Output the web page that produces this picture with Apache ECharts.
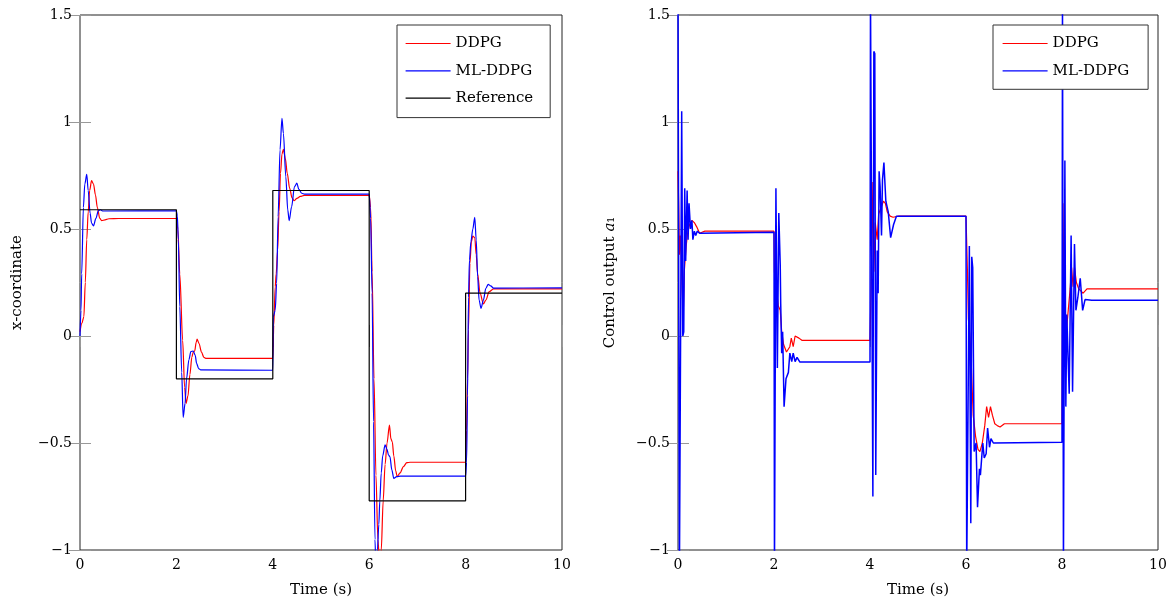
<!DOCTYPE html>
<html>
<head>
<meta charset="utf-8">
<title>DDPG vs ML-DDPG</title>
<script src="https://cdn.jsdelivr.net/npm/echarts@6/dist/echarts.min.js"></script>
<style>
html, body {margin:0; padding:0; background:#fff;}
#chart {width:1170px; height:603px;}
</style>
</head>
<body>
<div id="chart"></div>
<script>
// ticks
var timeTicks = [0, 2, 4, 6, 8, 10];
var valueTicks = [-1, -0.5, 0, 0.5, 1, 1.5];

// left panel (x-coordinate), points are [time, value]
var refX = [[0,0.59],[2,0.59],[2,-0.2],[4,-0.2],[4,0.68],[6,0.68],[6,-0.77],[8,-0.77],[8,0.2],[10,0.2]];

var ddpgX = [
  [0,0.02],[0.04,0.06],[0.08,0.09],[0.11,0.25],[0.14,0.45],[0.17,0.58],[0.2,0.68],[0.24,0.726],[0.28,0.71],[0.32,0.66],[0.36,0.6],[0.41,0.55],[0.45,0.539],[0.52,0.543],[0.6,0.548],[0.8,0.549],[2,0.549],
  [2.03,0.5],[2.07,0.29],[2.13,-0.02],[2.17,-0.24],[2.2,-0.315],[2.24,-0.28],[2.28,-0.18],[2.32,-0.1],[2.35,-0.075],[2.38,-0.07],[2.41,-0.03],[2.43,-0.015],[2.47,-0.035],[2.52,-0.075],[2.57,-0.1],[2.62,-0.105],[4,-0.105],
  [4.02,0.05],[4.05,0.23],[4.07,0.29],[4.1,0.4],[4.13,0.58],[4.16,0.76],[4.19,0.85],[4.22,0.872],[4.26,0.83],[4.3,0.76],[4.35,0.69],[4.4,0.645],[4.44,0.632],[4.5,0.643],[4.57,0.652],[4.65,0.657],[6,0.657],
  [6.03,0.6],[6.06,0.3],[6.1,-0.2],[6.14,-0.65],[6.18,-0.95],[6.22,-1.08],[6.25,-1.0],[6.29,-0.77],[6.33,-0.6],[6.37,-0.5],[6.42,-0.416],[6.45,-0.48],[6.48,-0.495],[6.51,-0.56],[6.55,-0.63],[6.58,-0.657],[6.64,-0.64],[6.71,-0.61],[6.78,-0.592],[6.85,-0.59],[8,-0.59],
  [8.02,-0.44],[8.04,-0.2],[8.06,0.03],[8.09,0.34],[8.12,0.44],[8.15,0.467],[8.19,0.46],[8.22,0.38],[8.25,0.29],[8.3,0.2],[8.37,0.15],[8.42,0.168],[8.49,0.207],[8.58,0.22],[10,0.22]
];

var mlX = [
  [0,0],[0.02,0.12],[0.035,0.29],[0.07,0.6],[0.1,0.71],[0.14,0.755],[0.17,0.68],[0.21,0.573],[0.24,0.527],[0.28,0.515],[0.33,0.55],[0.38,0.585],[0.42,0.59],[0.48,0.584],[2,0.585],
  [2.02,0.56],[2.04,0.45],[2.07,0.137],[2.11,-0.17],[2.14,-0.38],[2.18,-0.315],[2.21,-0.2],[2.26,-0.11],[2.3,-0.073],[2.35,-0.07],[2.39,-0.09],[2.42,-0.128],[2.46,-0.152],[2.5,-0.158],[4,-0.16],
  [4.01,0.09],[4.05,0.12],[4.08,0.246],[4.11,0.557],[4.15,0.87],[4.19,1.017],[4.22,0.947],[4.27,0.744],[4.31,0.589],[4.34,0.539],[4.39,0.604],[4.45,0.698],[4.5,0.714],[4.54,0.685],[4.6,0.667],[4.66,0.663],[6,0.663],
  [6.03,0.55],[6.06,0.2],[6.09,-0.4],[6.12,-0.95],[6.145,-1.15],[6.17,-1.0],[6.2,-0.88],[6.22,-0.77],[6.25,-0.64],[6.28,-0.56],[6.33,-0.509],[6.37,-0.53],[6.4,-0.556],[6.43,-0.564],[6.47,-0.626],[6.51,-0.665],[6.57,-0.657],[6.65,-0.655],[8,-0.655],
  [8.02,-0.59],[8.04,-0.28],[8.06,0.18],[8.08,0.355],[8.11,0.44],[8.15,0.5],[8.19,0.555],[8.22,0.449],[8.25,0.277],[8.28,0.168],[8.32,0.129],[8.37,0.168],[8.42,0.223],[8.47,0.241],[8.52,0.234],[8.58,0.224],[10,0.225]
];

// right panel (control output a1)
var ddpgU = [
  [0,0.77],[0.015,0.6],[0.03,0.38],[0.05,0.47],[0.07,0.35],[0.09,0.2],[0.11,0.1],[0.13,0.3],[0.17,0.42],[0.2,0.48],[0.24,0.52],[0.29,0.54],[0.34,0.53],[0.39,0.51],[0.45,0.48],[0.5,0.485],[0.56,0.49],[2,0.49],
  [2.01,0.3],[2.03,0.23],[2.06,0.2],[2.09,0.14],[2.13,0.12],[2.16,0.02],[2.2,-0.04],[2.26,-0.075],[2.3,-0.07],[2.33,-0.05],[2.36,-0.01],[2.4,-0.05],[2.44,0],[2.47,0],[2.52,-0.01],[2.58,-0.02],[4,-0.02],
  [4.03,0.3],[4.06,0.72],[4.08,0.3],[4.11,0.53],[4.15,0.45],[4.18,0.57],[4.23,0.6],[4.28,0.63],[4.32,0.62],[4.36,0.58],[4.42,0.56],[4.48,0.555],[4.6,0.56],[6,0.56],
  [6.03,0.3],[6.05,0.08],[6.08,0],[6.11,-0.13],[6.15,-0.37],[6.2,-0.47],[6.25,-0.53],[6.29,-0.54],[6.34,-0.5],[6.39,-0.42],[6.43,-0.33],[6.47,-0.38],[6.51,-0.33],[6.55,-0.37],[6.6,-0.41],[6.66,-0.42],[6.71,-0.425],[6.8,-0.41],[8,-0.41],
  [8.02,0.62],[8.04,0.2],[8.06,-0.08],[8.09,0.02],[8.13,0.12],[8.17,0.22],[8.2,0.32],[8.23,0.23],[8.26,0.32],[8.3,0.25],[8.35,0.22],[8.44,0.2],[8.52,0.22],[10,0.22]
];

var mlU = [
  [0,1.6],[0.01,1.6],[0.03,-1.1],[0.05,-1.1],[0.077,1.05],[0.1,0],[0.12,0.02],[0.14,0.69],[0.16,0.35],[0.19,0.68],[0.21,0.45],[0.23,0.62],[0.26,0.5],[0.29,0.54],[0.31,0.45],[0.34,0.49],[0.37,0.47],[0.4,0.49],[0.45,0.48],[2,0.485],
  [2.01,-1.1],[2.03,-1.1],[2.04,0.69],[2.07,-0.15],[2.1,0.575],[2.13,0.33],[2.14,0.15],[2.16,-0.08],[2.18,0.02],[2.21,-0.33],[2.25,-0.2],[2.3,-0.17],[2.33,-0.08],[2.37,-0.12],[2.4,-0.08],[2.44,-0.12],[2.48,-0.1],[2.54,-0.122],[4,-0.122],
  [4.01,1.6],[4.06,-0.75],[4.08,1.33],[4.1,1.32],[4.12,-0.65],[4.15,0.4],[4.17,0.2],[4.19,0.77],[4.21,0.7],[4.24,0.47],[4.26,0.73],[4.29,0.81],[4.33,0.63],[4.38,0.58],[4.43,0.46],[4.49,0.52],[4.55,0.56],[6,0.56],
  [6.015,-1.1],[6.04,-1.1],[6.07,0.42],[6.1,-0.875],[6.12,0.37],[6.14,0.32],[6.17,-0.54],[6.21,-0.5],[6.24,-0.8],[6.28,-0.62],[6.3,-0.65],[6.35,-0.5],[6.38,-0.57],[6.42,-0.55],[6.45,-0.43],[6.49,-0.52],[6.52,-0.48],[6.57,-0.5],[8,-0.497],
  [8.01,1.6],[8.03,-1.1],[8.045,-1.1],[8.06,0.82],[8.08,-0.33],[8.1,0.1],[8.15,-0.27],[8.19,0.47],[8.22,-0.26],[8.26,0.43],[8.29,0.12],[8.33,0.18],[8.38,0.27],[8.43,0.12],[8.48,0.17],[8.62,0.167],[10,0.167]
];

var FONT = 'DejaVu Serif';
var RED = '#ff0000', BLUE = '#0000ff', BLACK = '#000000';

//unicode minus like the pdf
function fmtNum(v){
    return String(v).replace('-', '\u2212');
}

function xAxisPair(gi){
    var base = {
        gridIndex: gi, type: 'value',
        min: timeTicks[0], max: timeTicks[timeTicks.length-1], interval: timeTicks[1]-timeTicks[0],
        axisLine: {show: false},
        axisTick: {inside: true, length: 11, lineStyle: {color: '#999'}},
        splitLine: {show: false}
    };
    var bottom = Object.assign({}, base, {
        position: 'bottom',
        name: 'Time (s)', nameLocation: 'middle', nameGap: 33,
        nameTextStyle: {fontFamily: FONT, fontSize: 15, color: '#000'},
        axisLabel: {margin: 8, color: '#000', fontFamily: FONT, fontSize: 14, formatter: fmtNum}
    });
    var top = Object.assign({}, base, {position: 'top', axisLabel: {show: false}});
    return [bottom, top];
}

function yAxisPair(gi, name, gap){
    var base = {
        gridIndex: gi, type: 'value',
        min: valueTicks[0], max: valueTicks[valueTicks.length-1], interval: valueTicks[1]-valueTicks[0],
        axisLine: {show: false},
        axisTick: {inside: true, length: 11, lineStyle: {color: '#999'}},
        splitLine: {show: false}
    };
    var left = Object.assign({}, base, {
        position: 'left',
        name: name, nameLocation: 'middle', nameGap: gap,
        nameTextStyle: {fontFamily: FONT, fontSize: 15, color: '#000',
            rich: {i: {fontFamily: FONT, fontSize: 15, fontStyle: 'italic', color: '#000'}}},
        axisLabel: {margin: 8, color: '#000', fontFamily: FONT, fontSize: 14, formatter: fmtNum}
    });
    var right = Object.assign({}, base, {position: 'right', axisLabel: {show: false}});
    return [left, right];
}

function lineSeries(name, data, color, width, xi, yi){
    return {
        name: name, type: 'line', data: data,
        xAxisIndex: xi, yAxisIndex: yi,
        symbol: 'none', showSymbol: false,
        lineStyle: {color: color, width: width},
        itemStyle: {color: color},
        clip: true, animation: false
    };
}

function legendBox(items, left, pad){
    return {
        data: items, left: left, top: 25, orient: 'vertical',
        itemWidth: 45, itemHeight: 14, itemGap: 12.3,
        padding: pad,
        borderColor: '#333', borderWidth: 1, backgroundColor: '#fff',
        itemStyle: {opacity: 0},   // hide the circle, keep only the line
        lineStyle: {width: 1.2},
        textStyle: {fontFamily: FONT, fontSize: 15, color: '#000', lineHeight: 14},
        selectedMode: false
    };
}

var chart = echarts.init(document.getElementById('chart'));

var option = {
    backgroundColor: '#fff',
    animation: false,
    grid: [
        {left: 80, top: 15, width: 482, height: 535, show: true, borderColor: '#222', borderWidth: 1},
        {left: 678, top: 15, width: 480, height: 535, show: true, borderColor: '#222', borderWidth: 1}
    ],
    xAxis: xAxisPair(0).concat(xAxisPair(1)),
    yAxis: yAxisPair(0, 'x-coordinate', 55).concat(yAxisPair(1, 'Control output {i|a}\u2081', 60)),
    legend: [
        legendBox(['DDPG', 'ML-DDPG', 'Reference'], 397, [11, 17, 12, 8]),
        legendBox(['DDPG', 'ML-DDPG'], 993, [11, 19, 11, 9])
    ],
    series: [
        lineSeries('DDPG', ddpgX, RED, 1.2, 0, 0),
        lineSeries('ML-DDPG', mlX, BLUE, 1.2, 0, 0),
        lineSeries('Reference', refX, BLACK, 1.2, 0, 0),
        lineSeries('DDPG', ddpgU, RED, 1.2, 2, 2),
        lineSeries('ML-DDPG', mlU, BLUE, 1.5, 2, 2)
    ]
};

// smooth the left panel a bit, the right one is jagged anyway
option.series[0].smooth = 0.3;
option.series[0].smoothMonotone = 'x';
option.series[1].smooth = 0.3;
option.series[1].smoothMonotone = 'x';

chart.setOption(option);
</script>
</body>
</html>
